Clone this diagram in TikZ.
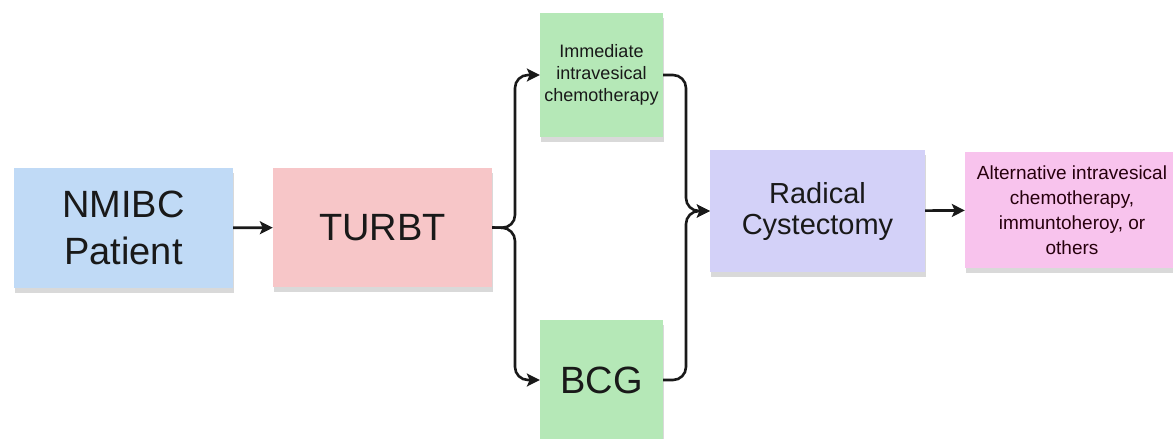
\documentclass[tikz,border=0pt]{standalone}
\usepackage{fontspec}
\setmainfont{Liberation Sans}
\usetikzlibrary{arrows.meta,shadows}
\definecolor{patblue}{HTML}{C0DAF6}
\definecolor{turbtpink}{HTML}{F7C6C8}
\definecolor{chemgreen}{HTML}{B5E8B7}
\definecolor{radlav}{HTML}{D3D1F8}
\definecolor{altpink}{HTML}{F8C3ED}
\begin{document}
\begin{tikzpicture}[x=1pt,y=-1pt,
  box/.style={inner sep=0pt, align=center, text=black!90,
    drop shadow={opacity=0.3, shadow xshift=1pt, shadow yshift=-5pt}},
  arr/.style={-{Stealth[length=13pt,width=13pt,inset=3pt]}, line width=2.6pt, black!90}]
\useasboundingbox (0,0) rectangle (1173,439);
\clip (0,0) rectangle (1173,439);
\node [box, fill=patblue, minimum width=219pt, minimum height=120pt, font=\fontsize{38}{47}\selectfont] (pat) at (123.5,228) {NMIBC\\Patient};
\node [box, fill=turbtpink, minimum width=219pt, minimum height=119pt, font=\fontsize{38}{46}\selectfont] (turbt) at (382.5,227.5) {TURBT};
\node [box, fill=chemgreen, minimum width=123pt, minimum height=124pt, font=\fontsize{18}{22}\selectfont] (imm) at (601.5,75) {Immediate\\intravesical\\chemotherapy};
\node [box, fill=chemgreen, minimum width=123pt, minimum height=120pt, font=\fontsize{38}{46}\selectfont] (bcg) at (601.5,380) {BCG};
\node [box, fill=radlav, minimum width=215pt, minimum height=122pt, font=\fontsize{29}{31}\selectfont] (rad) at (817.5,211) {Radical\\Cystectomy};
\node [box, fill=altpink, minimum width=214pt, minimum height=116pt, font=\fontsize{19}{25}\selectfont, text=black!80!purple] (alt) at (1072,210) {Alternative intravesical\\chemotherapy,\\immuntoheroy, or\\others};
\coordinate (split) at (515,228);
\coordinate (join) at (686,211);
\draw [arr] (pat) -- (turbt);
\draw [arr, rounded corners=13pt] (turbt.east) -- (split) |- (imm.west);
\draw [arr, rounded corners=13pt] (turbt.east) -- (split) |- (bcg.west);
\draw [arr, rounded corners=13pt] (imm.east) -| (join) -- (rad.west);
\draw [arr, rounded corners=13pt] (bcg.east) -| (join) -- (rad.west);
\draw [arr] (rad) -- (alt);
\end{tikzpicture}
\end{document}
